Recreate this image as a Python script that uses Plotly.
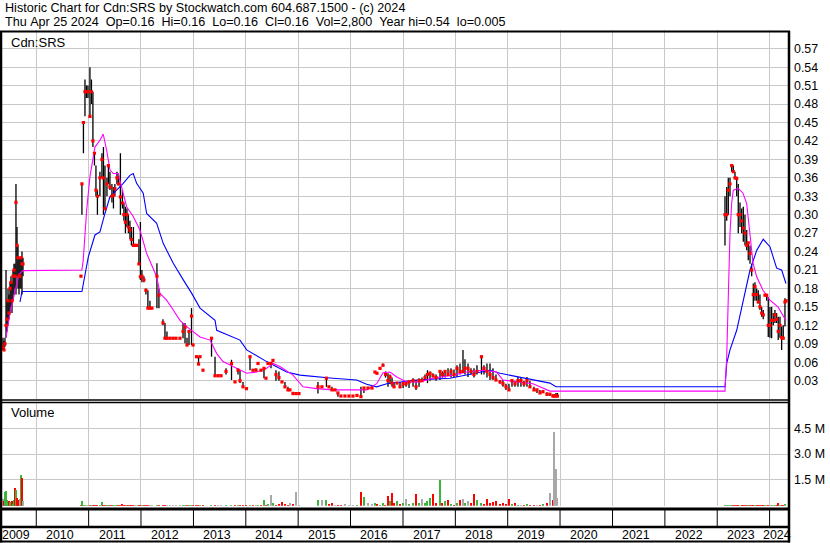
import plotly.graph_objects as go
from datetime import datetime

W, H = 830, 543
FONT = "Liberation Sans, Arial, sans-serif"

# ---------------- data (time as decimal year) ----------------
bar_t = [
    # 2009
    2009.364, 2009.383, 2009.402, 2009.422, 2009.441, 2009.460, 2009.479, 2009.498, 2009.517, 2009.536, 2009.555,
    2009.574, 2009.593, 2009.612, 2009.632, 2009.651, 2009.670, 2009.689, 2009.708, 2009.727, 2009.746,
    # 2010
    2010.853, 2010.872, 2010.901, 2010.930, 2010.958, 2010.987,
    # 2011
    2011.025, 2011.054, 2011.082, 2011.111, 2011.140, 2011.168, 2011.216, 2011.254, 2011.283, 2011.312, 2011.350,
    2011.378, 2011.407, 2011.445, 2011.474, 2011.502, 2011.541, 2011.569, 2011.607, 2011.646, 2011.674, 2011.703,
    2011.732, 2011.760, 2011.789, 2011.817, 2011.856, 2011.884, 2011.922, 2011.961, 2011.989,
    # 2012
    2012.018, 2012.056, 2012.094, 2012.132, 2012.171, 2012.209, 2012.304, 2012.342, 2012.419, 2012.457, 2012.495,
    2012.552, 2012.610, 2012.667, 2012.743, 2012.801, 2012.839, 2012.877, 2012.915, 2012.963, 2012.992,
    # 2013
    2013.058, 2013.097, 2013.125, 2013.182, 2013.345, 2013.412, 2013.469, 2013.526, 2013.622, 2013.727, 2013.793,
    2013.851, 2013.889, 2013.946,
    # 2014
    2014.013, 2014.080, 2014.137, 2014.194, 2014.233, 2014.290, 2014.347, 2014.385, 2014.423, 2014.481, 2014.519,
    2014.576, 2014.633, 2014.691, 2014.748, 2014.805, 2014.843, 2014.901, 2014.958,
    # 2015
    2015.015, 2015.378, 2015.454, 2015.540, 2015.588, 2015.645, 2015.703, 2015.760, 2015.817, 2015.893, 2015.970,
    # 2016
    2016.046, 2016.123, 2016.199, 2016.256, 2016.333, 2016.409, 2016.466, 2016.504, 2016.562, 2016.619, 2016.667,
    2016.714, 2016.753, 2016.791, 2016.829, 2016.886, 2016.943,
    # 2017
    2017.001, 2017.058, 2017.115, 2017.192, 2017.249, 2017.306, 2017.363, 2017.421, 2017.468, 2017.516, 2017.573,
    2017.631, 2017.707, 2017.755, 2017.803, 2017.860, 2017.917, 2017.974,
    # 2018
    2018.032, 2018.089, 2018.146, 2018.184, 2018.242, 2018.299, 2018.356, 2018.413, 2018.499, 2018.547, 2018.604,
    2018.662, 2018.719, 2018.776, 2018.853, 2018.910, 2018.967,
    # 2019
    2019.024, 2019.082, 2019.139, 2019.196, 2019.253, 2019.311, 2019.368, 2019.425, 2019.502, 2019.559, 2019.616,
    2019.673, 2019.750, 2019.807, 2019.864, 2019.893, 2019.922, 2019.950,
    # 2023-2024
    2023.148, 2023.181, 2023.211, 2023.244, 2023.276, 2023.307, 2023.339, 2023.372, 2023.402, 2023.435, 2023.467,
    2023.498, 2023.530, 2023.563, 2023.593, 2023.626, 2023.658, 2023.689, 2023.721, 2023.754, 2023.784, 2023.816,
    2023.849, 2023.879, 2023.912, 2023.944, 2023.975, 2024.007, 2024.039, 2024.070, 2024.102, 2024.135, 2024.165,
    2024.198, 2024.230, 2024.260, 2024.293, 2024.312,
]
bar_hi = [
    0.10, 0.095, 0.10, 0.21, 0.16, 0.18, 0.17, 0.19, 0.20, 0.19, 0.21,
    0.22, 0.22, 0.35, 0.28, 0.25, 0.23, 0.23, 0.23, 0.24, 0.23,
    0.20, 0.35, 0.45, 0.52, 0.51, 0.51,
    0.54, 0.52, 0.50, 0.40, 0.38, 0.34, 0.37, 0.40, 0.41, 0.38, 0.36,
    0.38, 0.37, 0.35, 0.345, 0.35, 0.37, 0.367, 0.40, 0.34, 0.32, 0.313,
    0.31, 0.30, 0.29, 0.28, 0.28, 0.25, 0.25, 0.26, 0.288,
    0.21, 0.20, 0.18, 0.177, 0.16, 0.15, 0.221, 0.18, 0.13, 0.124, 0.11,
    0.099, 0.10, 0.099, 0.10, 0.124, 0.124, 0.10, 0.11, 0.148, 0.09,
    0.069, 0.069, 0.069, 0.047, 0.099, 0.069, 0.04, 0.038, 0.05, 0.064, 0.028,
    0.05, 0.047, 0.028,
    0.017, 0.069, 0.047, 0.05, 0.058, 0.047, 0.05, 0.034, 0.058, 0.06, 0.063,
    0.047, 0.045, 0.028, 0.028, 0.02, 0.015, 0.012, 0.009,
    0.009, 0.028, 0.02, 0.034, 0.02, 0.02, 0.015, 0.01, 0.005, 0.005, 0.005,
    0.005, 0.006, 0.02, 0.018, 0.018, 0.018, 0.044, 0.042, 0.05, 0.058, 0.045,
    0.042, 0.04, 0.035, 0.026, 0.026, 0.028,
    0.028, 0.03, 0.028, 0.034, 0.031, 0.034, 0.035, 0.04, 0.047, 0.045, 0.042,
    0.04, 0.047, 0.045, 0.047, 0.05, 0.05, 0.048,
    0.055, 0.058, 0.08, 0.065, 0.058, 0.05, 0.05, 0.055, 0.069, 0.055, 0.058,
    0.058, 0.05, 0.04, 0.031, 0.031, 0.025,
    0.025, 0.03, 0.03, 0.036, 0.035, 0.03, 0.036, 0.03, 0.02, 0.015, 0.015,
    0.015, 0.011, 0.01, 0.008, 0.008, 0.01, 0.01,
    0.33, 0.345, 0.36, 0.36, 0.38, 0.38, 0.37, 0.36, 0.35, 0.32, 0.31,
    0.313, 0.30, 0.275, 0.254, 0.25, 0.22, 0.188, 0.19, 0.18, 0.177, 0.17,
    0.15, 0.145, 0.169, 0.169, 0.166, 0.15, 0.15, 0.14, 0.145, 0.14, 0.134,
    0.134, 0.118, 0.12, 0.164, 0.16,
]
bar_lo = [
    0.08, 0.08, 0.085, 0.10, 0.11, 0.12, 0.13, 0.14, 0.15, 0.14, 0.16,
    0.17, 0.18, 0.17, 0.20, 0.18, 0.17, 0.18, 0.18, 0.17, 0.20,
    0.20, 0.30, 0.40, 0.46, 0.49, 0.49,
    0.46, 0.48, 0.41, 0.38, 0.33, 0.30, 0.33, 0.36, 0.30, 0.31, 0.33,
    0.35, 0.34, 0.32, 0.31, 0.33, 0.35, 0.348, 0.30, 0.31, 0.29, 0.27,
    0.28, 0.27, 0.26, 0.25, 0.25, 0.25, 0.25, 0.22, 0.194,
    0.19, 0.19, 0.17, 0.148, 0.148, 0.148, 0.148, 0.148, 0.12, 0.099, 0.099,
    0.099, 0.099, 0.099, 0.099, 0.099, 0.091, 0.088, 0.088, 0.088, 0.088,
    0.069, 0.057, 0.069, 0.047, 0.069, 0.036, 0.038, 0.038, 0.04, 0.031, 0.028,
    0.04, 0.026, 0.018,
    0.017, 0.047, 0.047, 0.047, 0.058, 0.047, 0.034, 0.034, 0.058, 0.05, 0.063,
    0.03, 0.03, 0.028, 0.018, 0.015, 0.015, 0.009, 0.009,
    0.009, 0.009, 0.02, 0.02, 0.02, 0.015, 0.015, 0.004, 0.005, 0.005, 0.005,
    0.005, 0.005, 0.004, 0.01, 0.018, 0.018, 0.044, 0.042, 0.05, 0.055, 0.035,
    0.02, 0.025, 0.02, 0.02, 0.026, 0.018,
    0.018, 0.02, 0.018, 0.02, 0.015, 0.02, 0.028, 0.03, 0.026, 0.03, 0.035,
    0.03, 0.031, 0.035, 0.035, 0.04, 0.035, 0.036,
    0.036, 0.04, 0.045, 0.04, 0.036, 0.04, 0.035, 0.04, 0.04, 0.04, 0.035,
    0.031, 0.031, 0.03, 0.025, 0.02, 0.015,
    0.015, 0.02, 0.02, 0.02, 0.02, 0.02, 0.02, 0.02, 0.015, 0.01, 0.01,
    0.01, 0.005, 0.005, 0.003, 0.005, 0.005, 0.005,
    0.25, 0.29, 0.30, 0.33, 0.37, 0.37, 0.36, 0.33, 0.27, 0.28, 0.27,
    0.256, 0.25, 0.242, 0.226, 0.22, 0.20, 0.15, 0.16, 0.16, 0.156, 0.145,
    0.134, 0.13, 0.169, 0.16, 0.101, 0.10, 0.099, 0.12, 0.124, 0.124, 0.096,
    0.10, 0.08, 0.099, 0.118, 0.16,
]
bar_cl = [
    0.085, 0.08, 0.09, 0.12, 0.13, 0.16, 0.14, 0.18, 0.19, 0.16, 0.20,
    0.21, 0.20, 0.32, 0.25, 0.23, 0.20, 0.20, 0.23, 0.22, 0.22,
    0.20, 0.35, 0.45, 0.50, 0.50, 0.50,
    0.46, 0.50, 0.42, 0.40, 0.34, 0.33, 0.36, 0.39, 0.36, 0.31, 0.35,
    0.38, 0.345, 0.33, 0.332, 0.342, 0.36, 0.35, 0.329, 0.319, 0.30, 0.288,
    0.30, 0.28, 0.275, 0.26, 0.25, 0.25, 0.25, 0.22, 0.199,
    0.20, 0.194, 0.177, 0.148, 0.148, 0.148, 0.20, 0.169, 0.124, 0.099, 0.099,
    0.099, 0.099, 0.099, 0.099, 0.11, 0.117, 0.088, 0.11, 0.135, 0.088,
    0.069, 0.057, 0.069, 0.047, 0.099, 0.038, 0.038, 0.038, 0.045, 0.058, 0.028,
    0.047, 0.03, 0.02,
    0.017, 0.069, 0.047, 0.047, 0.058, 0.047, 0.05, 0.034, 0.058, 0.058, 0.063,
    0.04, 0.035, 0.028, 0.02, 0.015, 0.015, 0.009, 0.009,
    0.009, 0.02, 0.02, 0.034, 0.02, 0.015, 0.015, 0.01, 0.005, 0.005, 0.005,
    0.005, 0.006, 0.004, 0.018, 0.018, 0.018, 0.044, 0.042, 0.05, 0.055, 0.04,
    0.03, 0.036, 0.026, 0.02, 0.026, 0.02,
    0.025, 0.025, 0.028, 0.03, 0.02, 0.03, 0.03, 0.035, 0.04, 0.042, 0.038,
    0.035, 0.045, 0.04, 0.045, 0.04, 0.045, 0.04,
    0.05, 0.045, 0.045, 0.05, 0.05, 0.045, 0.04, 0.045, 0.069, 0.05, 0.045,
    0.04, 0.035, 0.031, 0.028, 0.025, 0.02,
    0.015, 0.03, 0.025, 0.03, 0.03, 0.025, 0.03, 0.02, 0.015, 0.015, 0.01,
    0.012, 0.008, 0.008, 0.005, 0.005, 0.005, 0.005,
    0.30, 0.30, 0.34, 0.35, 0.38, 0.37, 0.36, 0.359, 0.30, 0.30, 0.29,
    0.278, 0.27, 0.25, 0.254, 0.237, 0.21, 0.17, 0.183, 0.17, 0.158, 0.15,
    0.14, 0.137, 0.169, 0.169, 0.12, 0.12, 0.128, 0.128, 0.137, 0.13, 0.11,
    0.12, 0.10, 0.099, 0.158, 0.16,
]
bar_vol_m = [
    0.45, 0.30, 0.85, 0.90, 0.35, 0.30, 0.30, 0.25, 0.20, 0.30, 0.15,
    0.35, 1.05, 0.95, 0.50, 0.35, 0.35, 0.40, 1.80, 1.65, 0.30,
    0.05, 0.29, 0.10, 0.08, 0.06, 0.05,
    0.10, 0.06, 0.08, 0.05, 0.06, 0.05, 0.05, 0.23, 0.10, 0.06, 0.05,
    0.06, 0.05, 0.04, 0.05, 0.04, 0.05, 0.04, 0.08, 0.15, 0.05, 0.06,
    0.04, 0.05, 0.04, 0.05, 0.06, 0.03, 0.04, 0.05, 0.08,
    0.05, 0.04, 0.05, 0.06, 0.04, 0.03, 0.06, 0.05, 0.04, 0.06, 0.04,
    0.03, 0.04, 0.03, 0.04, 0.06, 0.05, 0.04, 0.05, 0.08, 0.05,
    0.04, 0.05, 0.04, 0.05, 0.06, 0.08, 0.05, 0.04, 0.05, 0.07, 0.05,
    0.06, 0.05, 0.06,
    0.05, 0.10, 0.08, 0.06, 0.08, 0.10, 0.35, 0.10, 0.15, 0.68, 0.20,
    0.10, 0.15, 0.25, 0.15, 0.10, 0.20, 0.15, 0.81,
    0.10, 0.35, 0.35, 0.35, 0.15, 0.20, 0.10, 0.10, 0.05, 0.15, 0.10,
    0.05, 0.10, 0.81, 0.52, 0.20, 0.15, 0.20, 0.15, 0.10, 0.20, 0.10,
    0.58, 0.30, 0.78, 0.20, 0.30, 0.15,
    0.20, 0.40, 0.15, 0.20, 0.70, 0.20, 0.45, 0.20, 0.30, 0.50, 0.70,
    0.20, 1.55, 0.20, 0.30, 0.35, 0.15, 0.10,
    0.20, 0.35, 0.40, 0.20, 0.30, 0.20, 0.69, 0.35, 0.20, 0.15, 0.44,
    0.20, 0.25, 0.30, 0.15, 0.20, 0.15,
    0.40, 0.15, 0.20, 0.10, 0.10, 0.10, 0.15, 0.10, 0.05, 0.05, 0.10,
    0.15, 0.20, 0.76, 0.38, 4.31, 2.18, 0.46,
    0.05, 0.08, 0.06, 0.05, 0.04, 0.05, 0.04, 0.06, 0.08, 0.05, 0.06,
    0.07, 0.05, 0.06, 0.05, 0.07, 0.06, 0.08, 0.05, 0.06, 0.05, 0.07,
    0.06, 0.05, 0.04, 0.05, 0.08, 0.06, 0.07, 0.05, 0.06, 0.07, 0.20,
    0.08, 0.10, 0.06, 0.12, 0.003,
]

ma_fast_t = [
    2009.422, 2009.498, 2009.593, 2009.670, 2009.746, 2010.872, 2010.897, 2010.930, 2010.962, 2011.025,
    2011.121, 2011.216, 2011.279, 2011.344, 2011.407, 2011.470, 2011.565, 2011.630, 2011.726, 2011.852,
    2011.980, 2012.108, 2012.299, 2012.362, 2012.489, 2012.615, 2012.743, 2012.871, 2013.062, 2013.125,
    2013.316, 2013.444, 2013.564, 2013.755, 2014.017, 2014.208, 2014.398, 2014.519, 2014.652, 2014.901,
    2015.092, 2015.353, 2015.664, 2016.308, 2016.499, 2016.619, 2016.753, 2016.880, 2017.071, 2017.325,
    2017.573, 2017.955, 2018.217, 2018.528, 2018.789, 2018.910, 2019.171, 2019.482, 2019.807, 2019.922,
    2023.148, 2023.181, 2023.211, 2023.244, 2023.276, 2023.307, 2023.402, 2023.492, 2023.563, 2023.626,
    2023.684, 2023.754, 2023.874, 2024.007, 2024.160, 2024.312,
]
ma_fast_v = [
    0.100, 0.140, 0.175, 0.203, 0.209, 0.210, 0.226, 0.270, 0.307, 0.362,
    0.410, 0.421, 0.431, 0.405, 0.373, 0.367, 0.367, 0.345, 0.313, 0.297,
    0.275, 0.237, 0.199, 0.172, 0.161, 0.145, 0.128, 0.118, 0.104, 0.101,
    0.096, 0.074, 0.061, 0.053, 0.042, 0.044, 0.050, 0.058, 0.053, 0.039,
    0.020, 0.017, 0.015, 0.015, 0.025, 0.043, 0.044, 0.036, 0.028, 0.028,
    0.034, 0.039, 0.044, 0.047, 0.044, 0.031, 0.028, 0.025, 0.013, 0.013,
    0.013, 0.069, 0.172, 0.270, 0.319, 0.340, 0.343, 0.335, 0.318, 0.264,
    0.221, 0.199, 0.177, 0.161, 0.150, 0.128,
]
ma_slow_t = [
    2009.689, 2009.727, 2010.872, 2010.930, 2010.993, 2011.121, 2011.216, 2011.312, 2011.407, 2011.535,
    2011.661, 2011.789, 2011.852, 2011.917, 2012.043, 2012.108, 2012.299, 2012.425, 2012.615, 2012.806,
    2012.967, 2013.125, 2013.412, 2013.444, 2013.889, 2014.017, 2014.398, 2014.780, 2015.034, 2015.664,
    2016.117, 2016.308, 2016.499, 2016.690, 2017.262, 2017.898, 2018.217, 2018.662, 2018.853, 2019.482,
    2019.807, 2019.922, 2023.148, 2023.181, 2023.244, 2023.372, 2023.498, 2023.626, 2023.754, 2023.879,
    2024.007, 2024.135, 2024.230, 2024.312,
]
ma_slow_v = [
    0.158, 0.175, 0.175, 0.204, 0.231, 0.267, 0.272, 0.302, 0.329, 0.340,
    0.351, 0.364, 0.367, 0.351, 0.335, 0.302, 0.286, 0.253, 0.221, 0.194,
    0.172, 0.148, 0.128, 0.112, 0.096, 0.080, 0.061, 0.044, 0.039, 0.034,
    0.031, 0.024, 0.020, 0.025, 0.031, 0.034, 0.039, 0.047, 0.042, 0.031,
    0.026, 0.020, 0.020, 0.058, 0.080, 0.112, 0.161, 0.210, 0.242, 0.260,
    0.248, 0.213, 0.210, 0.188,
]

price_ticks = [0.03, 0.06, 0.09, 0.12, 0.15, 0.18, 0.21, 0.24, 0.27, 0.30,
               0.33, 0.36, 0.39, 0.42, 0.45, 0.48, 0.51, 0.54, 0.57]
vol_ticks = [1.5e6, 3.0e6, 4.5e6]
vol_tick_text = ["1.5 M", "3.0 M", "4.5 M"]
years = list(range(2009, 2025))
view_t = [2009.307, 2024.370]

header1 = "Historic Chart for Cdn:SRS by Stockwatch.com 604.687.1500 - (c) 2024"
header2 = ("Thu Apr 25 2024  Op=0.16  Hi=0.16  Lo=0.16  Cl=0.16  Vol=2,800  "
           "Year hi=0.54  lo=0.005")

n = len(bar_t)
assert all(len(a) == n for a in (bar_hi, bar_lo, bar_cl, bar_vol_m))
assert len(ma_fast_t) == len(ma_fast_v) and len(ma_slow_t) == len(ma_slow_v)


def yr2dt(t):
    y = int(t)
    a, b = datetime(y, 1, 1), datetime(y + 1, 1, 1)
    return a + (b - a) * (t - y)


def px(x):
    return x / W


def py(y):
    return 1 - y / H


dates = [yr2dt(t) for t in bar_t]
seg_x, seg_y = [], []
for d, h, l in zip(dates, bar_hi, bar_lo):
    seg_x += [d, d, None]
    seg_y += [l, h, None]

vcol = []
prev = None
for c in bar_cl:
    if prev is None or c == prev:
        vcol.append("#a8a8a8")
    elif c > prev:
        vcol.append("#3cb43c")
    else:
        vcol.append("#ff0000")
    prev = c

fig = go.Figure()
fig.add_trace(go.Scatter(x=seg_x, y=seg_y, mode="lines", line=dict(color="black", width=1.3),
                         hoverinfo="skip", xaxis="x", yaxis="y"))
fig.add_trace(go.Scatter(x=[yr2dt(t) for t in ma_slow_t], y=ma_slow_v, mode="lines",
                         line=dict(color="#0000ff", width=1.1), xaxis="x", yaxis="y"))
fig.add_trace(go.Scatter(x=[yr2dt(t) for t in ma_fast_t], y=ma_fast_v, mode="lines",
                         line=dict(color="#ff00ff", width=1.1), xaxis="x", yaxis="y"))
fig.add_trace(go.Scatter(x=dates, y=bar_cl, mode="markers",
                         marker=dict(symbol="square", size=3.2, color="#ff0000", line=dict(width=0)),
                         xaxis="x", yaxis="y"))
fig.add_trace(go.Bar(x=dates, y=[v * 1e6 for v in bar_vol_m], marker=dict(color=vcol, line=dict(width=0)),
                     width=8 * 86400000, xaxis="x2", yaxis="y2"))

x_dom = [0, px(789)]
xcommon = dict(type="date", range=[yr2dt(view_t[0]), yr2dt(view_t[1])], showgrid=True,
               gridcolor="#c8c8c8", gridwidth=1, dtick="M12", tick0="2010-01-01",
               showticklabels=False, ticks="", zeroline=False, showline=False, domain=x_dom)

shapes = []
black = "black"


def hline(y, x0, x1, w):
    shapes.append(dict(type="line", xref="paper", yref="paper", x0=px(x0), x1=px(x1),
                       y0=py(y), y1=py(y), line=dict(color=black, width=w)))


def vline(x, y0, y1, w):
    shapes.append(dict(type="line", xref="paper", yref="paper", x0=px(x), x1=px(x),
                       y0=py(y0), y1=py(y1), line=dict(color=black, width=w)))


hline(31.5, 0, 790, 2)
hline(400, 0, 790, 1.3)
hline(402.5, 0, 790, 1.3)
hline(509, 0, 790, 3)
hline(527, 0, 790, 2.5)
hline(541.5, 0, 790, 2)
vline(1, 31, 542.5, 2.5)
vline(789, 31, 542.5, 2.5)
for y in years[1:]:
    shapes.append(dict(type="line", xref="x", yref="paper", x0=datetime(y, 1, 1), x1=datetime(y, 1, 1),
                       y0=py(509), y1=py(527), line=dict(color=black, width=1)))

annotations = [
    dict(text=header1, x=px(3), y=py(7.5), xref="paper", yref="paper", xanchor="left", yanchor="middle",
         showarrow=False, font=dict(family=FONT, size=12.6, color="black")),
    dict(text=header2.replace(" ", "\u00a0"), x=px(3), y=py(22), xref="paper", yref="paper",
         xanchor="left", yanchor="middle", showarrow=False, font=dict(family=FONT, size=12.6, color="black")),
    dict(text="Cdn:SRS", x=px(9), y=py(42), xref="paper", yref="paper", xanchor="left", yanchor="middle",
         showarrow=False, font=dict(family=FONT, size=13, color="black")),
    dict(text="Volume", x=px(9), y=py(413), xref="paper", yref="paper", xanchor="left", yanchor="middle",
         showarrow=False, font=dict(family=FONT, size=13, color="black")),
]
v0, v1 = yr2dt(view_t[0]), yr2dt(view_t[1])
for y in years:
    a = max(datetime(y, 1, 1), v0)
    b = min(datetime(y + 1, 1, 1), v1)
    mid = a + (b - a) / 2
    annotations.append(dict(text=str(y), x=mid, y=py(534.5), xref="x", yref="paper", xanchor="center",
                            yanchor="middle", xshift=-2.5, showarrow=False,
                            font=dict(family=FONT, size=12.4, color="black")))

fig.update_layout(
    width=W, height=H, margin=dict(l=0, r=0, t=0, b=0), autosize=False,
    paper_bgcolor="white", plot_bgcolor="white", showlegend=False, bargap=0,
    xaxis=dict(anchor="y", **xcommon),
    xaxis2=dict(anchor="y2", matches="x", **xcommon),
    yaxis=dict(domain=[py(399.1), py(30.3)], range=[0, 0.6], anchor="x", side="right",
               tickvals=price_ticks, ticktext=[f"{v:.2f}" for v in price_ticks],
               showgrid=True, gridcolor="#c8c8c8", gridwidth=1, zeroline=False, showline=False,
               ticks="", ticklabelstandoff=4, tickfont=dict(family=FONT, size=12.4, color="black")),
    yaxis2=dict(domain=[py(505.8), py(402.5)], range=[0, 6.0e6], anchor="x2", side="right",
                tickvals=vol_ticks, ticktext=vol_tick_text,
                showgrid=True, gridcolor="#c8c8c8", gridwidth=1, zeroline=False, showline=False,
                ticks="", ticklabelstandoff=4, tickfont=dict(family=FONT, size=12.4, color="black")),
    shapes=shapes, annotations=annotations,
)

fig.write_html("out.html", config={"displayModeBar": False})

# remove the browser's default page margin so the 830x543 figure fills the window exactly
with open("out.html", encoding="utf-8") as f:
    page = f.read()
page = page.replace("<head>", "<head><style>html,body{margin:0;padding:0;overflow:hidden;}</style>", 1)
with open("out.html", "w", encoding="utf-8") as f:
    f.write(page)
